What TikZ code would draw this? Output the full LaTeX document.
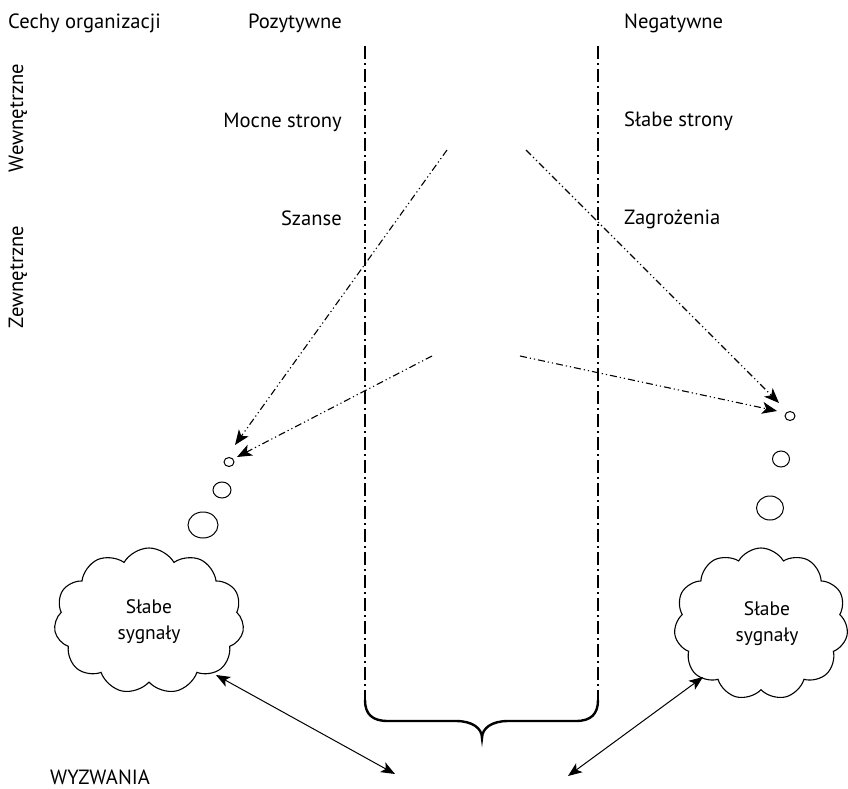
\documentclass[tikz,border=0pt]{standalone}
\usepackage{fontspec}
\setmainfont{PT Sans}
\usetikzlibrary{shapes.symbols,shapes.geometric,arrows.meta}
\begin{document}
\begin{tikzpicture}[x=1pt,y=-1pt,
  lbl/.style={font=\fontsize{20.6}{24}\selectfont, inner sep=0pt},
  cloudtxt/.style={font=\fontsize{19.5}{26}\selectfont, align=center},
  divider/.style={line width=2.4pt, dash pattern=on 13pt off 4pt on 2pt off 4pt},
  bracepath/.style={line width=2.4pt, line cap=round},
  ddarrow/.style={line width=1.1pt, dash pattern=on 7pt off 3pt on 1.2pt off 3pt on 1.2pt off 3pt,
    -{Stealth[length=15pt,width=12pt,inset=4pt]}},
  duo/.style={line width=1pt, {Stealth[length=14pt,width=11pt,inset=3.5pt]}-{Stealth[length=14pt,width=11pt,inset=3.5pt]}},
  bubble/.style={draw, ellipse, line width=1pt, inner sep=0pt},
  thought/.style={draw, cloud, cloud puffs=11, cloud puff arc=120, line width=1.1pt, inner sep=0pt}
]
\useasboundingbox (0,0) rectangle (848,789);

% headings
\node[lbl, anchor=base west] (cechy) at (8,29) {Cechy organizacji};
\node[lbl, anchor=base east] (poz) at (342,29) {Pozytywne};
\node[lbl, anchor=base west] (neg) at (624,29) {Negatywne};
\node[lbl, anchor=base east] (mocne) at (342,128) {Mocne strony};
\node[lbl, anchor=base west] (slabe) at (624,127) {Słabe strony};
\node[lbl, anchor=base east] (szanse) at (342,225) {Szanse};
\node[lbl, anchor=base west] (zagr) at (624,224) {Zagrożenia};
\node[lbl, rotate=90] (wew) at (18,118) {Wewnętrzne};
\node[lbl, rotate=90] (zew) at (18,277) {Zewnętrzne};
\node[lbl, anchor=base west] (wyz) at (50,784) {WYZWANIA};

% dividers
\coordinate (lt) at (365,46);
\coordinate (lb) at (365,700);
\coordinate (rt) at (598,46);
\coordinate (rb) at (598,700);
\draw[divider] (lt) -- (lb);
\draw[divider] (rt) -- (rb);
\coordinate (cusp) at (482,738);
\draw[bracepath] (lb) .. controls (365,714) and (372,721) .. (388,721)
  -- (456,721) .. controls (472,721) and (482,728) .. (cusp)
  .. controls (482,728) and (492,721) .. (508,721)
  -- (576,721) .. controls (591,721) and (598,714) .. (rb);

% thought bubbles
\node[bubble, minimum width=10pt, minimum height=9pt] (lb1) at (229,462) {};
\node[bubble, minimum width=18pt, minimum height=16pt] (lb2) at (222,490) {};
\node[bubble, minimum width=30pt, minimum height=26pt] (lb3) at (203,525) {};
\node[bubble, minimum width=10pt, minimum height=9pt] (rb1) at (790,416) {};
\node[bubble, minimum width=17pt, minimum height=16pt] (rb2) at (781,459) {};
\node[bubble, minimum width=27pt, minimum height=24pt] (rb3) at (770,508) {};

\node[thought, minimum width=190pt, minimum height=146pt] (cl) at (149,621) {};
\node[cloudtxt] (clt) at (149,622) {Słabe\\sygnały};
\node[thought, minimum width=174pt, minimum height=152pt, shape border rotate=15] (cr) at (761,624) {};
\node[cloudtxt] (crt) at (767,624) {Słabe\\sygnały};

% dash-dot-dot arrows
\coordinate (a1s) at (447,150);
\coordinate (a1e) at (235,445);
\coordinate (a2s) at (432,356);
\coordinate (a2e) at (237,457);
\coordinate (a3s) at (526,150);
\coordinate (a3e) at (779,403);
\coordinate (a4s) at (520,356);
\coordinate (a4e) at (777,411);
\draw[ddarrow] (a1s) -- (a1e);
\draw[ddarrow] (a2s) -- (a2e);
\draw[ddarrow] (a3s) -- (a3e);
\draw[ddarrow] (a4s) -- (a4e);

% challenges arrows
\coordinate (d1a) at (216,675);
\coordinate (d1b) at (395,774);
\coordinate (d2a) at (703,677);
\coordinate (d2b) at (568,776);
\draw[duo] (d1a) -- (d1b);
\draw[duo] (d2a) -- (d2b);
\end{tikzpicture}
\end{document}
